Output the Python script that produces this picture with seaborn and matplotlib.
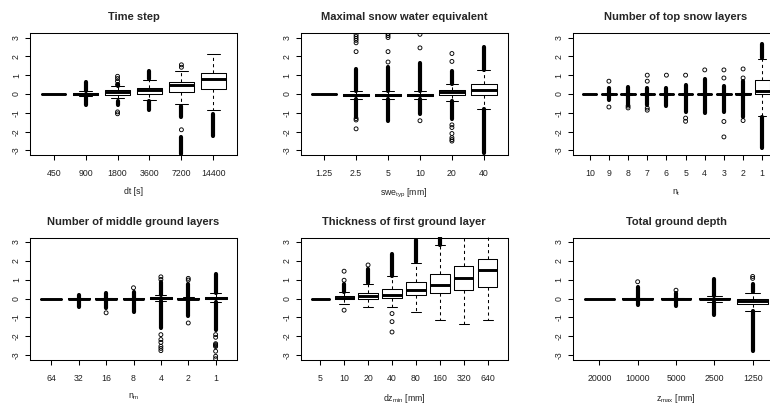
import matplotlib
matplotlib.use("Agg")
import matplotlib.pyplot as plt
import seaborn as sns
import pandas as pd

# Box statistics per setting: (lower whisker, q1, median, q3, upper whisker)
dt_labels = ["450", "900", "1800", "3600", "7200", "14400"]
dt_stats = [
    (0.00, 0.00, 0.00, 0.00, 0.00),
    (-0.12, -0.04, 0.01, 0.06, 0.16),
    (-0.21, -0.04, 0.09, 0.20, 0.41),
    (-0.30, 0.00, 0.21, 0.34, 0.73),
    (-0.53, 0.11, 0.46, 0.64, 1.21),
    (-0.87, 0.27, 0.82, 1.12, 2.10),
]
dt_points = [[], [], [0.50, 0.68, 0.82, 0.94, -0.95, -1.05], [], [1.42, 1.55, -1.90], []]
dt_bands = [[], [(0.16, 0.64), (-0.57, -0.12)], [(0.41, 0.55), (-0.57, -0.38)],
            [(0.78, 1.24), (-0.84, -0.38)], [(-1.23, -0.62), (-3.20, -2.26)],
            [(-2.22, -1.05)]]

swe_labels = ["1.25", "2.5", "5", "10", "20", "40"]
swe_stats = [
    (0.00, 0.00, 0.00, 0.00, 0.00),
    (-0.25, -0.11, -0.05, 0.00, 0.14),
    (-0.27, -0.13, -0.05, 0.01, 0.16),
    (-0.25, -0.11, -0.04, 0.01, 0.15),
    (-0.36, -0.07, 0.10, 0.23, 0.53),
    (-0.78, -0.05, 0.23, 0.53, 1.26),
]
swe_points = [[], [2.25, 2.72, 2.85, 2.95, 3.05, 3.15, -1.30, -1.38, -1.85],
              [1.70, 2.25, 3.00, 3.10, 3.20], [2.45, 3.17, -1.42],
              [1.73, 2.15, -1.64, -1.78, -2.10, -2.32, -2.42, -2.50], []]
swe_bands = [[], [(0.14, 1.33), (-1.20, -0.25)], [(0.16, 1.44), (-1.46, -0.27)],
             [(0.15, 1.65), (-1.07, -0.25)], [(0.55, 1.21), (-1.33, -0.36)],
             [(1.30, 2.50), (-3.15, -0.80)]]

nt_labels = ["10", "9", "8", "7", "6", "5", "4", "3", "2", "1"]
nt_stats = [
    (0.00, 0.00, 0.00, 0.00, 0.00),
    (-0.05, -0.02, 0.00, 0.02, 0.05),
    (-0.05, -0.02, 0.00, 0.02, 0.05),
    (-0.05, -0.02, 0.00, 0.02, 0.05),
    (-0.05, -0.02, 0.00, 0.02, 0.05),
    (-0.05, -0.02, 0.00, 0.02, 0.05),
    (-0.05, -0.02, 0.00, 0.02, 0.05),
    (-0.05, -0.02, 0.00, 0.02, 0.05),
    (-0.06, -0.02, 0.01, 0.03, 0.07),
    (-1.16, 0.02, 0.16, 0.77, 1.87),
]
nt_points = [[], [0.68, -0.69], [-0.64, -0.74], [1.00, 0.68, -0.75, -0.86], [1.00],
             [1.00, -1.28, -1.45], [1.28], [1.28, 0.85, -1.46, -2.28],
             [1.33, 0.85, -1.41], []]
nt_bands = [[], [(0.05, 0.32), (-0.30, -0.05)], [(0.05, 0.35), (-0.56, -0.05)],
            [(0.05, 0.32), (-0.57, -0.05)], [(0.05, 0.32), (-0.66, -0.05)],
            [(0.05, 0.50), (-0.93, -0.05)], [(0.05, 0.82), (-1.00, -0.05)],
            [(0.05, 0.41), (-0.93, -0.05)], [(0.07, 0.68), (-1.23, -0.06)],
            [(1.90, 2.63), (-2.88, -1.20)]]

nm_labels = ["64", "32", "16", "8", "4", "2", "1"]
nm_stats = [
    (0.00, 0.00, 0.00, 0.00, 0.00),
    (-0.04, -0.02, 0.00, 0.02, 0.04),
    (-0.04, -0.02, 0.00, 0.02, 0.04),
    (-0.04, -0.02, 0.00, 0.02, 0.04),
    (-0.12, -0.02, 0.03, 0.08, 0.20),
    (-0.05, -0.02, 0.00, 0.02, 0.06),
    (-0.18, -0.05, 0.04, 0.10, 0.27),
]
nm_points = [[], [], [-0.76], [0.57], [1.15, 1.01, -1.92, -2.18, -2.33, -2.54, -2.65, -2.77],
             [1.07, 0.98, -1.30],
             [-1.92, -2.06, -2.40, -2.45, -2.50, -2.55, -2.80, -3.07, -3.20]]
nm_bands = [[], [(0.04, 0.21), (-0.45, -0.04)], [(0.04, 0.30), (-0.52, -0.04)],
            [(0.04, 0.34), (-0.72, -0.04)], [(0.20, 0.89), (-1.56, -0.12)],
            [(0.06, 0.75), (-0.94, -0.05)], [(0.27, 1.28), (-1.65, -0.18)]]

dz_labels = ["5", "10", "20", "40", "80", "160", "320", "640"]
dz_stats = [
    (0.00, 0.00, 0.00, 0.00, 0.00),
    (-0.28, -0.05, 0.04, 0.12, 0.34),
    (-0.46, -0.05, 0.11, 0.30, 0.78),
    (-0.46, 0.02, 0.18, 0.53, 1.17),
    (-0.71, 0.16, 0.43, 0.87, 1.90),
    (-1.14, 0.28, 0.71, 1.31, 2.82),
    (-1.33, 0.46, 1.08, 1.72, 3.60),
    (-1.15, 0.59, 1.51, 2.11, 3.60),
]
dz_points = [[], [0.97, 1.45, -0.62], [1.78], [-0.80, -1.23, -1.78], [], [], [], []]
dz_bands = [[], [(0.34, 0.78)], [(0.80, 1.55)], [(1.20, 2.38)], [(1.92, 3.10)],
            [(2.85, 3.50)], [], []]

zm_labels = ["20000", "10000", "5000", "2500", "1250"]
zm_stats = [
    (0.00, 0.00, 0.00, 0.00, 0.00),
    (-0.05, -0.02, 0.00, 0.02, 0.05),
    (-0.05, -0.02, 0.00, 0.02, 0.05),
    (-0.20, -0.03, 0.00, 0.05, 0.12),
    (-0.66, -0.28, -0.15, -0.02, 0.30),
]
zm_points = [[], [0.89], [0.44], [], [1.07, 1.17]]
zm_bands = [[], [(0.05, 0.60), (-0.36, -0.05)], [(0.05, 0.30), (-0.39, -0.05)],
            [(0.12, 1.01), (-0.85, -0.20)], [(0.32, 0.78), (-2.77, -0.68)]]

panels = [
    ("Time step", "dt [s]", dt_labels, dt_stats, dt_points, dt_bands),
    ("Maximal snow water equivalent", "swe$_{typ}$ [mm]", swe_labels, swe_stats, swe_points, swe_bands),
    ("Number of top snow layers", "n$_t$", nt_labels, nt_stats, nt_points, nt_bands),
    ("Number of middle ground layers", "n$_m$", nm_labels, nm_stats, nm_points, nm_bands),
    ("Thickness of first ground layer", "dz$_{min}$ [mm]", dz_labels, dz_stats, dz_points, dz_bands),
    ("Total ground depth", "z$_{max}$ [mm]", zm_labels, zm_stats, zm_points, zm_bands),
]

sns.set_style("ticks")
plt.rcParams.update({
    "font.family": ["Liberation Sans", "DejaVu Sans"],
    "mathtext.default": "regular",
    "axes.unicode_minus": False,
    "axes.linewidth": 0.75,
    "axes.edgecolor": "black",
    "axes.labelcolor": "#222222",
    "xtick.color": "black",
    "ytick.color": "black",
    "xtick.labelcolor": "#222222",
    "ytick.labelcolor": "#222222",
    "xtick.major.size": 3.6,
    "ytick.major.size": 3.6,
    "xtick.major.width": 0.75,
    "ytick.major.width": 0.75,
    "xtick.labelsize": 6.3,
    "ytick.labelsize": 6.3,
})

W, H = 770, 405
fig = plt.figure(figsize=(W / 100, H / 100), dpi=100)
fig.patch.set_facecolor("white")

# panel boxes in pixels: left, top (the right column runs past the figure edge)
lefts = [30, 300.5, 572.5]
tops = [33, 237.5]
pw, ph = 207, 122

for i, (title, xlabel, labels, stats, points, bands) in enumerate(panels):
    left = lefts[i % 3]
    top = tops[i // 3]
    ax = fig.add_axes([left / W, 1 - (top + ph) / H, pw / W, ph / H])
    ax.set_facecolor("white")
    n = len(labels)
    pos = list(range(1, n + 1))

    bstats = [dict(whislo=s[0], q1=s[1], med=s[2], q3=s[3], whishi=s[4], fliers=[])
              for s in stats]
    ax.bxp(bstats, positions=pos, widths=0.8, showfliers=False,
           boxprops=dict(color="black", linewidth=0.75),
           medianprops=dict(color="black", linewidth=2.1, solid_capstyle="butt"),
           whiskerprops=dict(color="black", linewidth=0.75, linestyle=(0, (3, 3))),
           capprops=dict(color="black", linewidth=0.75))

    # dense runs of outliers
    for p, runs in zip(pos, bands):
        for lo, hi in runs:
            ax.vlines(p, lo, hi, color="black", linewidth=3.0, capstyle="round")

    # isolated outliers
    rows = [(p, v) for p, vals in zip(pos, points) for v in vals]
    if rows:
        df = pd.DataFrame(rows, columns=["pos", "value"])
        sns.scatterplot(data=df, x="pos", y="value", ax=ax, marker="o", s=8,
                        facecolor="none", edgecolor="black", linewidth=0.65,
                        legend=False)

    ax.set_xlim(0.5 - 0.04 * n, n + 0.5 + 0.04 * n)
    ax.set_ylim(-3.24, 3.24)
    ax.set_xticks(pos)
    ax.set_xticklabels(labels)
    ax.set_yticks(range(-3, 4))
    ax.set_yticklabels([str(v) for v in range(-3, 4)], rotation=90, va="center")
    ax.tick_params(axis="x", pad=6.5)
    ax.tick_params(axis="y", pad=3)
    ax.set_xlabel(xlabel, fontsize=6.3, labelpad=6.5)
    ax.set_ylabel("")
    ax.set_title(title, fontsize=8, fontweight="bold", pad=9)
    for sp in ax.spines.values():
        sp.set_visible(True)
        sp.set_color("black")
        sp.set_linewidth(0.75)

fig.savefig("out.png", dpi=100, facecolor="white")
